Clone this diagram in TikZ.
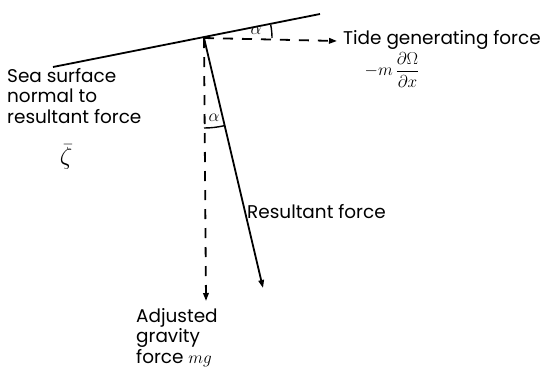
\documentclass[tikz,border=0pt]{standalone}
\usepackage{amsmath}
\usepackage{fontspec}
\setmainfont{Poppins}
\usetikzlibrary{arrows.meta, positioning, calc}

\tikzset{
  force/.style={line width=1.8bp, -{Triangle[length=8bp,width=5.5bp]}},
  forcedash/.style={force, dash pattern=on 10bp off 9bp},
  surface/.style={line width=1.8bp},
  anglearc/.style={line width=1.4bp},
  lbl/.style={font=\fontsize{18.5}{20.5}\selectfont, inner sep=0pt}
}

\begin{document}
\begin{tikzpicture}[x=1bp, y=-1bp]
  \useasboundingbox (0,0) rectangle (542,377);
  % points
  \coordinate (O) at (204,38);
  \coordinate (surfL) at (53,67);
  \coordinate (surfR) at (320,14);
  \coordinate (tideEnd) at (337,41);
  \coordinate (gravEnd) at (206,301);
  \coordinate (resEnd) at (263,288);
  % sea surface and forces
  \draw[surface] (surfL) -- (surfR);
  \draw[forcedash] (O) -- (tideEnd);
  \draw[forcedash] (O) -- (gravEnd);
  \draw[force] (O) -- (resEnd);
  % angles
  \draw[anglearc] (O) ++(0:68) arc (0:-11.2:68);
  \draw[anglearc] (O) ++(76.8:90) arc (76.8:90:90);
  \node[lbl] (a1) at (256,31) {$\alpha$};
  \node[lbl] (a2) at (214,118) {$\alpha$};
  % labels
  \node[lbl, anchor=west] (tide) at (343,40) {Tide generating force};
  \node[lbl] (tidef) at (392,70) {$-m\,\dfrac{\partial\Omega}{\partial x}$};
  \node[lbl, anchor=north west, align=left] (sea) at (7,68) {Sea surface\\normal to\\resultant force};
  \node[lbl, font=\fontsize{23}{26}\selectfont] (zeta) at (66,157) {$\bar{\zeta}$};
  \node[lbl, anchor=west] (res) at (247,212) {Resultant force};
  \node[lbl, anchor=north west, align=left] (grav) at (136,308) {Adjusted\\gravity\\force $mg$};
\end{tikzpicture}
\end{document}
